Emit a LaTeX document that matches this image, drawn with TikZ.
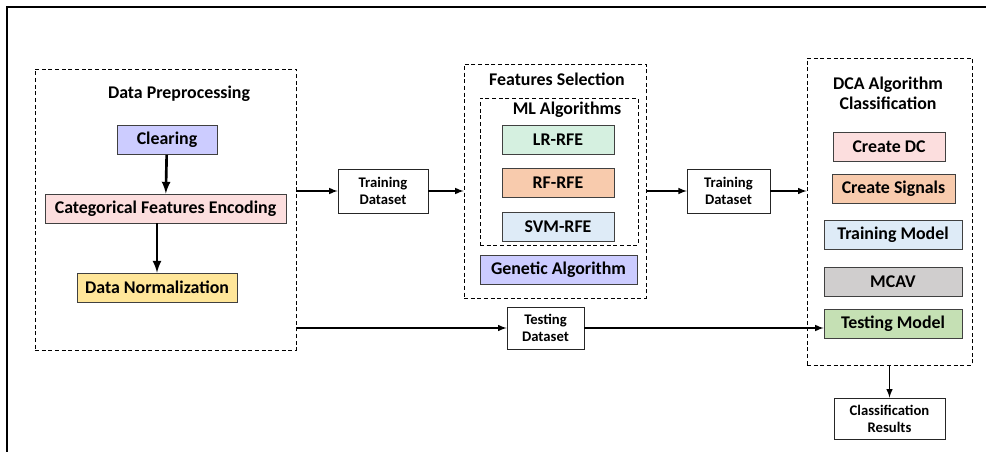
\documentclass[tikz,border=0pt]{standalone}
\usepackage{fontspec}
\setmainfont{Carlito}
\usetikzlibrary{arrows,positioning}
\usepackage{xcolor}
\definecolor{lavender}{HTML}{CCCCFF}
\definecolor{rosepink}{HTML}{FCDEDE}
\definecolor{sand}{HTML}{FFE699}
\definecolor{mint}{HTML}{D5F0E0}
\definecolor{peach}{HTML}{F8CBAD}
\definecolor{iceblue}{HTML}{DEEBF7}
\definecolor{stone}{HTML}{D0CECE}
\definecolor{sage}{HTML}{C5E0B4}

\begin{document}
\begin{tikzpicture}[x=0.75pt, y=-0.75pt,
    step_box/.style={
        rectangle,
        draw=black!75,
        inner sep=0pt,
        minimum height=22pt,
        font=\bfseries\fontsize{13.4}{15}\selectfont
    },
    data_box/.style={
        rectangle,
        draw=black!85,
        fill=white,
        align=center,
        inner sep=0pt,
        font=\bfseries\fontsize{11}{12.75}\selectfont
    },
    group_box/.style={
        rectangle,
        draw,
        dash pattern=on 3pt off 2pt,
        inner sep=0pt
    },
    group_title/.style={
        align=center,
        inner sep=0pt,
        font=\bfseries\fontsize{13.4}{15}\selectfont
    },
    flow/.style={-latex, line width=1.2pt}
]
    \useasboundingbox (0,0) rectangle (986,452);
    \draw[line width=1.5pt] (7,452) -- (7,7) -- (986,7);

    % data preprocessing
    \node (data_preprocessing) [group_box, minimum width=196pt, minimum height=211pt] at (165.5,209.5) {};
    \node (data_preprocessing_title) [group_title] at (179,94) {Data Preprocessing};
    \node (clearing) [step_box, fill=lavender, minimum width=75pt] at (167,140) {Clearing};
    \node (categorical_encoding) [step_box, fill=rosepink, minimum width=181pt] at (165.5,208.5) {Categorical Features Encoding};
    \node (data_normalization) [step_box, fill=sand, minimum width=120pt] at (157,287.5) {Data Normalization};

    % features selection
    \node (features_selection) [group_box, minimum width=136.5pt, minimum height=175.5pt] at (555,181) {};
    \node (features_selection_title) [group_title] at (557,79) {Features Selection};
    \node (ml_algorithms) [group_box, minimum width=118.5pt, minimum height=110pt] at (559,171.5) {};
    \node (ml_algorithms_title) [group_title] at (567,110) {ML Algorithms};
    \node (lr_rfe) [step_box, fill=mint, minimum width=84pt] at (558,139.5) {LR-RFE};
    \node (rf_rfe) [step_box, fill=peach, minimum width=84pt] at (558,182.5) {RF-RFE};
    \node (svm_rfe) [step_box, fill=iceblue, minimum width=84pt] at (558,226.5) {SVM-RFE};
    \node (genetic_algorithm) [step_box, fill=lavender, minimum width=118pt] at (558.5,269.5) {Genetic Algorithm};

    % dca classification
    \node (dca_classification) [group_box, minimum width=124pt, minimum height=230pt] at (889.5,211.5) {};
    \node (dca_classification_title) [group_title] at (888,93) {DCA Algorithm\\Classification};
    \node (create_dc) [step_box, fill=rosepink, minimum width=84pt] at (889,146.5) {Create DC};
    \node (create_signals) [step_box, fill=peach, minimum width=92pt] at (893.5,188.5) {Create Signals};
    \node (training_model) [step_box, fill=iceblue, minimum width=103.5pt] at (893,235) {Training Model};
    \node (mcav) [step_box, fill=stone, minimum width=103.5pt] at (893,281.5) {MCAV};
    \node (testing_model) [step_box, fill=sage, minimum width=103.5pt] at (893,323.5) {Testing Model};

    % datasets
    \node (training_dataset_a) [data_box, minimum width=67.5pt, minimum height=33pt] at (383,191) {Training\\Dataset};
    \node (training_dataset_b) [data_box, minimum width=62pt, minimum height=33pt] at (728.5,191) {Training\\Dataset};
    \node (testing_dataset) [data_box, minimum width=58pt, minimum height=31.5pt] at (545.5,328) {Testing\\Dataset};
    \node (classification_results) [data_box, minimum width=83pt, minimum height=31pt] at (889.5,418.5) {Classification\\Results};

    \draw[-latex, line width=2pt] (clearing) to (categorical_encoding);
    \draw[-latex, line width=2pt] (categorical_encoding.south -| data_normalization.north) to (data_normalization);

    \draw[flow] (data_preprocessing.east |- training_dataset_a) to (training_dataset_a);
    \draw[flow] (training_dataset_a) to (features_selection.west |- training_dataset_a);
    \draw[flow] (features_selection.east |- training_dataset_b) to (training_dataset_b);
    \draw[flow] (training_dataset_b) to (dca_classification.west |- training_dataset_b);
    \draw[flow] (data_preprocessing.east |- testing_dataset) to (testing_dataset);
    \draw[flow] (testing_dataset) to (testing_dataset -| testing_model.west);
    \draw[flow] (dca_classification.south) to (classification_results.north);
\end{tikzpicture}
\end{document}
